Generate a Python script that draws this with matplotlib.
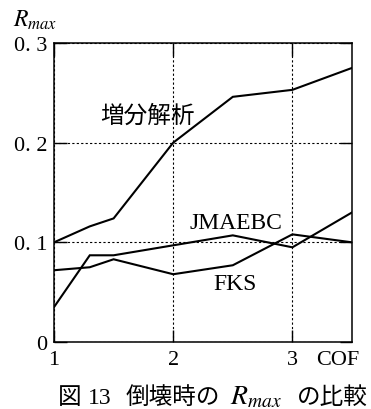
import matplotlib
matplotlib.use("Agg")
import matplotlib.pyplot as plt

plt.rcParams['mathtext.fontset'] = 'stix'

# ---- data ----
cof = [1.0, 1.3, 1.5, 2.0, 2.5, 3.0, 3.5]
incremental = [0.100, 0.116, 0.124, 0.200, 0.246, 0.253, 0.275]   # 増分解析
jmaebc = [0.035, 0.087, 0.087, 0.097, 0.107, 0.095, 0.130]
fks = [0.072, 0.075, 0.083, 0.068, 0.077, 0.108, 0.100]

xticks = [1, 2, 3]
xticklabels = ["1", "2", "3"]
yticks = [0.0, 0.1, 0.2, 0.3]
yticklabels = ["0", "0. 1", "0. 2", "0. 3"]

label_incr = "増分解析"
label_jma = "JMAEBC"
label_fks = "FKS"
caption_parts = ["図", "13", "倒壊時の", r"$R_{max}$", "の比較"]

serif = "Liberation Serif"
cjk = "Noto Sans CJK JP"

W, H = 371, 410
fig = plt.figure(figsize=(W/100, H/100), dpi=100)
ax = fig.add_axes([54/W, 1-343/H, (352-54)/W, (343-44)/H])

for ys in (incremental, jmaebc, fks):
    ax.plot(cof, ys, color="black", lw=1.5, solid_joinstyle="miter")

ax.set_xlim(1, 3.5)
ax.set_ylim(0, 0.3)
ax.set_xticks(xticks)
ax.set_xticklabels(xticklabels, family=serif, fontsize=16)
ax.set_yticks(yticks)
ax.set_yticklabels(yticklabels, family=serif, fontsize=16)
ax.tick_params(direction="in", length=9, width=1.0, top=True, right=True)
ax.tick_params(axis="x", pad=6)
ax.tick_params(axis="y", pad=5)
for s in ax.spines.values():
    s.set_linewidth(1.1)

ax.grid(True, linestyle=(0, (2, 2)), color="black", lw=0.8)

ax.text(1.78, 0.227, label_incr, family=cjk, fontsize=17,
        ha="center", va="center")
ax.text(2.53, 0.120, label_jma, family=serif, fontsize=17,
        ha="center", va="center")
ax.text(2.52, 0.059, label_fks, family=serif, fontsize=17,
        ha="center", va="center")

ax.annotate("COF", xy=(3.38, 0), xycoords=("data", "axes fraction"),
            xytext=(0, -6), textcoords="offset points",
            ha="center", va="top", family=serif, fontsize=16)

fig.text(13/W, 1-20/H, r"$R_{max}$", fontsize=17, ha="left",
         va="center")

# caption pieces (left edges in pixels)
cap_x = [58, 88, 126, 230, 297]
cap_fonts = [cjk, serif, cjk, serif, cjk]
cap_sizes = [17, 17, 17, 20, 17]
base_y = 1 - 404/H
for txt, px, fam, fs in zip(caption_parts, cap_x, cap_fonts, cap_sizes):
    fig.text(px/W, base_y, txt, family=fam, fontsize=fs,
             ha="left", va="baseline")

fig.savefig("out.png", dpi=100)
